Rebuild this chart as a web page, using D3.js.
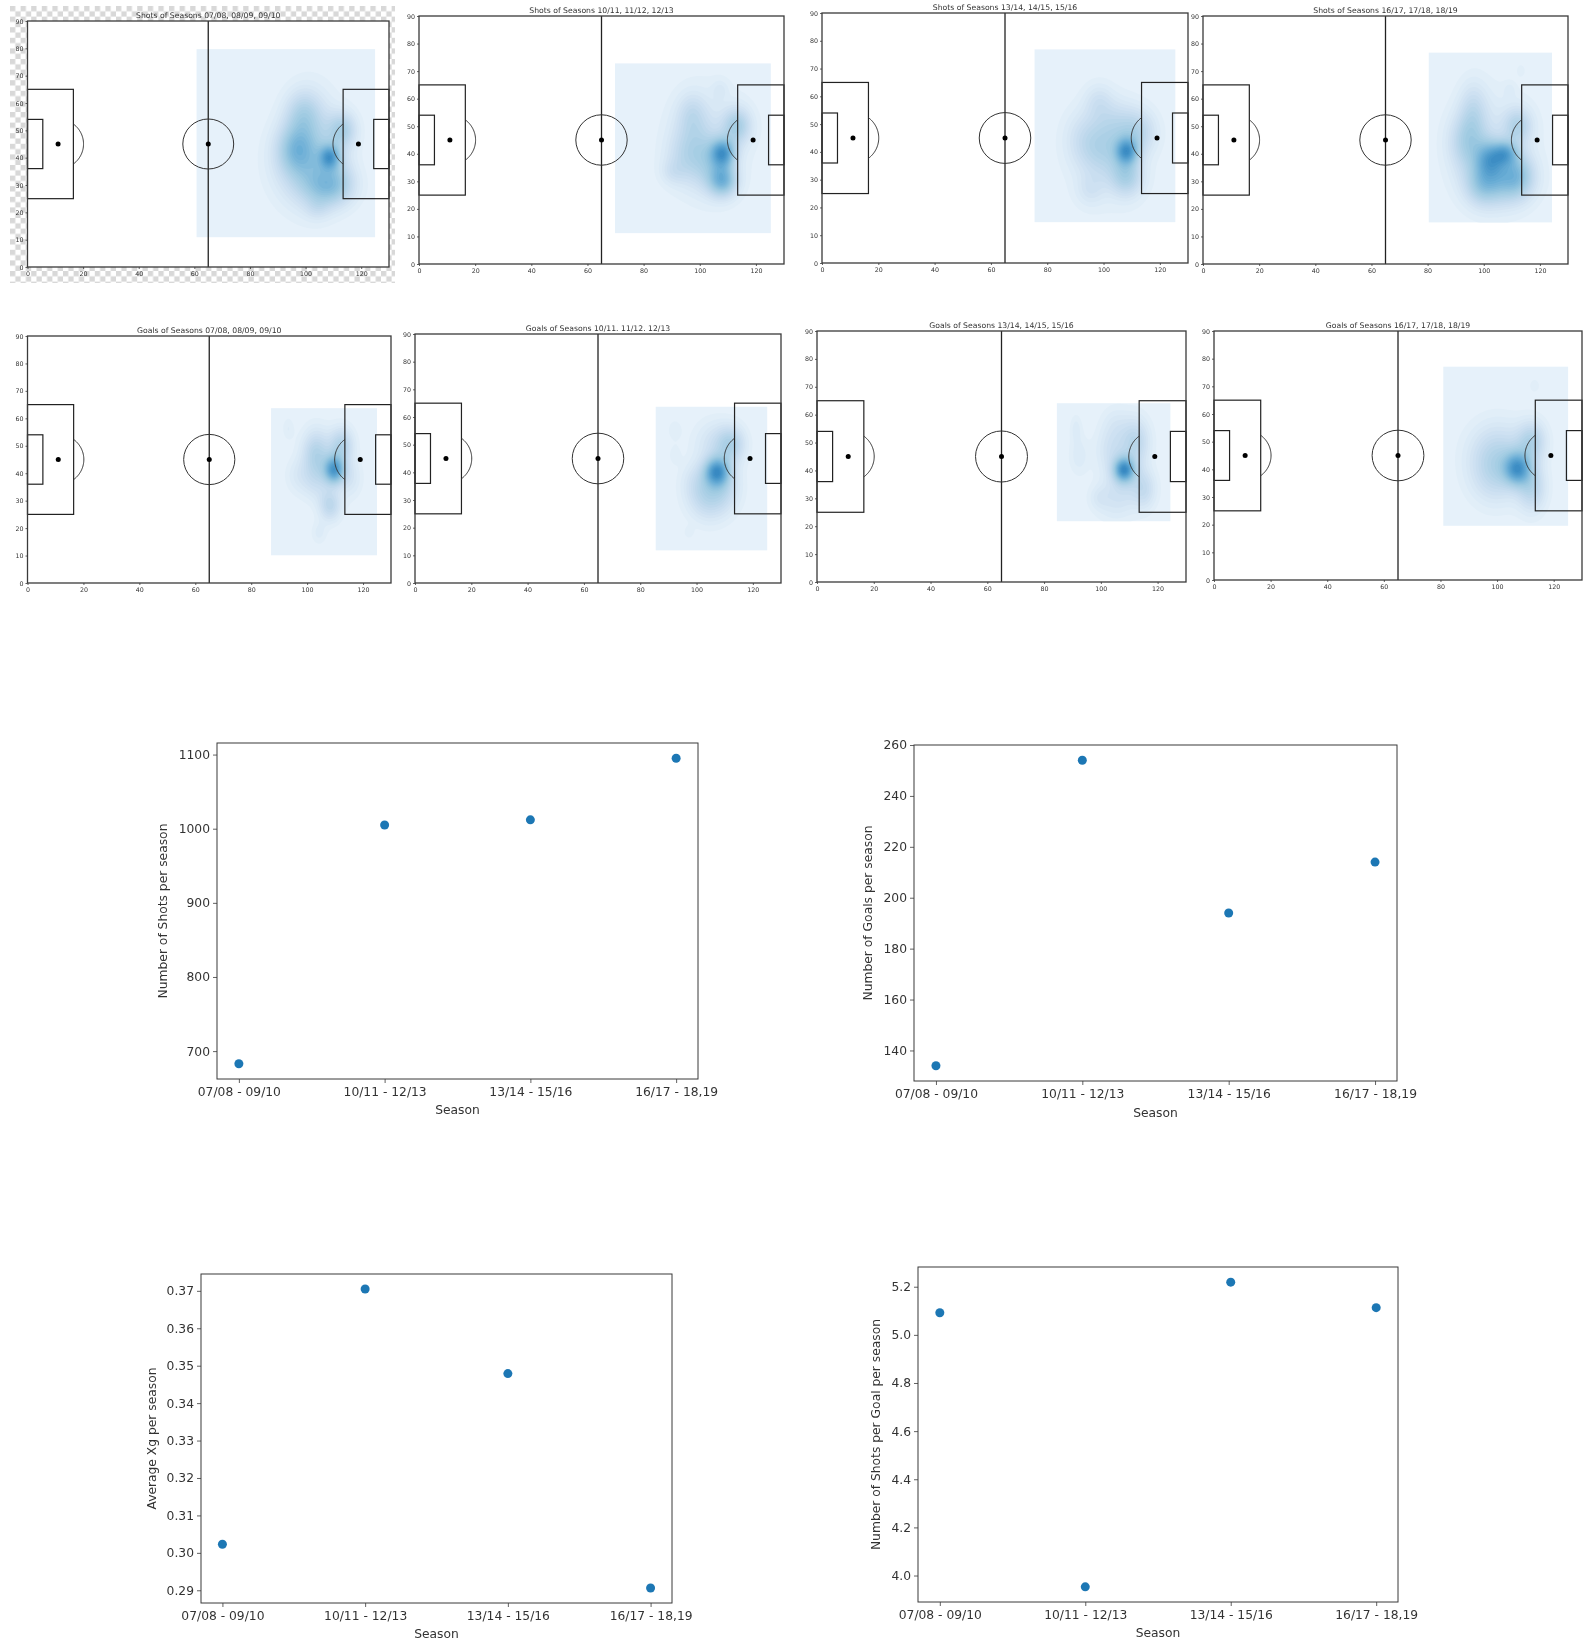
<!DOCTYPE html>
<html>
<head>
<meta charset="utf-8">
<script src="https://cdn.jsdelivr.net/npm/d3@7"></script>
<style>
body { margin: 0; background: #fff; }
text { font-family: "DejaVu Sans", sans-serif; }
</style>
</head>
<body>
<svg id="drawing_region" width="1585" height="1642"></svg>
<script>
// heat panels
const heatTitles = [
    "Shots of Seasons 07/08, 08/09, 09/10", "Shots of Seasons 10/11, 11/12, 12/13",
    "Shots of Seasons 13/14, 14/15, 15/16", "Shots of Seasons 16/17, 17/18, 18/19",
    "Goals of Seasons 07/08, 08/09, 09/10", "Goals of Seasons 10/11. 11/12. 12/13",
    "Goals of Seasons 13/14, 14/15, 15/16", "Goals of Seasons 16/17, 17/18, 18/19"
];
// pale kde box: x0, x1, y0, y1 in pitch units
const heatExtents = [
    [60.8, 125, 10.9, 79.7], [69.8, 125.3, 11.2, 72.8],
    [75.5, 125.5, 14.7, 76.9], [80.4, 124.3, 15.1, 76.7],
    [87.1, 125, 10.1, 63.7], [85.5, 125.1, 11.8, 63.7],
    [84.5, 124.5, 21.8, 64.1], [81, 125.1, 19.6, 77.1]
];
// density hot spots: x, y, spread x, spread y, strength
const heatSpots = [
    [[108.5,40,2.5,3,.5],[96,43,4.5,6,.28],[100,38,8,10,.28],[99,56,4.5,6,.24],[108,29,6,5,.34],[113,50,3.5,4.5,.3],[103,45,7,14,.12],[112,33,4,6,.1],[104,21,3,3,.08]],
    [[108,40,3,3.5,.6],[108,30,3.5,4,.48],[97,45,5,8,.16],[93,37,4.5,6,.1],[113,50,3.5,4.5,.32],[90,33,3,3,.08],[107,63,2,2.5,.07],[97,55,3.5,5,.12],[103,36,5,7,.2],[103,45,10,14,.1]],
    [[108,40,2.7,3.2,.55],[108,31,4,5,.3],[100,40,6,7,.2],[93,45,5,7,.12],[98,58,3.5,4.5,.12],[95,26,3.5,4,.1],[112,47,4.5,5.5,.24],[104,50,5,6,.14],[101,38,10,14,.07]],
    [[102,38,3.5,4.5,.42],[107.5,40,3,3,.4],[94,44,4.5,7,.28],[96,56,3.5,7,.17],[105,30,7,6,.36],[112,32,4,5.5,.28],[99,28,4,5,.18],[112,50,3.5,4.5,.26],[103,42,10,14,.12],[109,63,1.5,2,.05],[113,70,1,1.5,.05]],
    [[109.5,41,2.5,3.5,.68],[103,47,3.5,6,.3],[112,50,3,4.5,.3],[108,28,2.8,4,.25],[103,37,4,5,.14],[96,39,3,4.5,.07],[104,18,2,3,.07],[93,56,1.5,3,.06],[115,38,3,5,.12]],
    [[107,40,3,3.5,.65],[104,31,5,6,.26],[112,50,3.5,4.5,.28],[106,50,5,6,.14],[92,55,2,3,.05],[92,46,1.5,2.5,.05],[97,18,1.2,1.5,.05],[100,37,4,5,.1],[110,35,4,6,.16]],
    [[108,40,2.5,3,.7],[104,47,4,6,.16],[115,33,3,5,.18],[105,28,5,5,.1],[92,45,2.5,5,.08],[91,55,1.5,3.5,.07],[99,30,2.5,3,.07],[112,50,3.5,6,.26],[105,57,3.5,4.5,.07],[108,35,5,5,.12]],
    [[107,40,3.2,4,.6],[100,45,7,8,.26],[112,50,3.5,5,.28],[112,33,3.5,6,.26],[99,36,6,7,.14],[113,70,1.5,2,.05]]
];

// pitch layout in pitch units
const pitchBoxes = [[0, 25, 16.5, 65], [0, 36, 5.5, 54], [113.5, 25, 130, 65], [124.5, 36, 130, 54]];
const pitchSpots = [[11, 45], [65, 45], [119, 45]];
const pitchArcs = [[11, 45, -53, 53], [119, 45, 127, 233]];
const pitchXTicks = [0, 20, 40, 60, 80, 100, 120];
const pitchYTicks = [0, 10, 20, 30, 40, 50, 60, 70, 80, 90];

// scatter panels
const seasons = ["07/08 - 09/10", "10/11 - 12/13", "13/14 - 15/16", "16/17 - 18,19"];
const shotsPerSeason = [683, 1005, 1012, 1095];
const goalsPerSeason = [134, 254, 194, 214];
const xgPerSeason = [0.3023, 0.3705, 0.3479, 0.2906];
const shotsPerGoal = [5.092, 3.953, 5.219, 5.113];
const shotsTicks = [700, 800, 900, 1000, 1100];
const goalsTicks = [140, 160, 180, 200, 220, 240, 260];
const xgTicks = [0.29, 0.30, 0.31, 0.32, 0.33, 0.34, 0.35, 0.36, 0.37];
const shotsPerGoalTicks = [4.0, 4.2, 4.4, 4.6, 4.8, 5.0, 5.2];

// panel boxes on the page: left, right, top, bottom
const heatBoxes = [
    [27.5, 389, 21, 267], [419, 784, 16, 264], [822, 1188, 13, 263], [1203, 1568, 16, 264],
    [27.5, 391, 336, 583], [415, 781, 334, 583], [817, 1186, 331, 582], [1214, 1582, 331, 580]
];
const scatterConfigs = [
    { box: [217, 698, 743, 1079], values: shotsPerSeason, ticks: shotsTicks, domain: [662.4, 1115.6], fmt: "d", label: "Number of Shots per season", labelX: 167, seasonY: 1114 },
    { box: [914, 1397, 745, 1081], values: goalsPerSeason, ticks: goalsTicks, domain: [128, 260], fmt: "d", label: "Number of Goals per season", labelX: 872, seasonY: 1117 },
    { box: [201, 672, 1274, 1603], values: xgPerSeason, ticks: xgTicks, domain: [0.2866, 0.3745], fmt: ".2f", label: "Average Xg per season", labelX: 156, seasonY: 1638 },
    { box: [918, 1398, 1267, 1602], values: shotsPerGoal, ticks: shotsPerGoalTicks, domain: [3.89, 5.282], fmt: ".1f", label: "Number of Shots per Goal per season", labelX: 880, seasonY: 1637 }
];

const svg = d3.select("#drawing_region");
const ink = "#3a3a3a";
const blues = d3.scaleLinear()
    .domain([0, 0.2, 0.4, 0.6, 0.8, 1])
    .range(["#e6f1fa", "#c6dcef", "#9ecae1", "#6baed6", "#3f8fc5", "#1c6fb4"])
    .clamp(true);

const defs = svg.append("defs");
defs.append("filter").attr("id", "soft")
    .attr("x", "-5%").attr("y", "-5%").attr("width", "110%").attr("height", "110%")
    .append("feGaussianBlur").attr("stdDeviation", 0.55);

const cell = 5.3;
const checker = defs.append("pattern").attr("id", "checker")
    .attr("width", cell * 2).attr("height", cell * 2)
    .attr("patternUnits", "userSpaceOnUse")
    .attr("x", 10).attr("y", 6);
checker.append("rect").attr("width", cell * 2).attr("height", cell * 2).attr("fill", "#fff");
checker.append("rect").attr("width", cell).attr("height", cell).attr("fill", "#d8d8d8");
checker.append("rect").attr("x", cell).attr("y", cell).attr("width", cell).attr("height", cell).attr("fill", "#d8d8d8");

const page = svg.append("g").attr("filter", "url(#soft)");

// the first panel sits on a transparency grid
page.append("rect")
    .attr("x", 10).attr("y", 6).attr("width", 385).attr("height", 277)
    .attr("fill", "url(#checker)");

function styleAxis(g, size) {
    g.select(".domain").remove();
    g.selectAll("line").attr("stroke", ink).attr("stroke-width", 0.8);
    g.selectAll("text").attr("fill", "#333").style("font-size", size + "px").style("font-family", '"DejaVu Sans", sans-serif');
}

function drawHeat(index) {
    const [left, right, top, bottom] = heatBoxes[index];
    const [ex0, ex1, ey0, ey1] = heatExtents[index];
    const spots = heatSpots[index];
    const x = d3.scaleLinear().domain([0, 130]).range([left, right]);
    const y = d3.scaleLinear().domain([0, 90]).range([bottom, top]);
    const g = page.append("g");

    g.append("rect")
        .attr("x", left).attr("y", top)
        .attr("width", right - left).attr("height", bottom - top)
        .attr("fill", "#fff");

    // kde shading: sum the hot spots on a half unit grid and contour it
    const res = 2, gridW = 130 * res + 1, gridH = 90 * res + 1;
    const grid = new Float64Array(gridW * gridH);
    for (let j = 0; j < gridH; j++) {
        for (let i = 0; i < gridW; i++) {
            let v = 0;
            spots.forEach(([cx, cy, sx, sy, w]) => {
                const dx = (i / res - cx) / sx, dy = (j / res - cy) / sy;
                v += w * Math.exp(-0.5 * (dx * dx + dy * dy));
            });
            grid[j * gridW + i] = v;
        }
    }
    const contours = d3.contours().size([gridW, gridH]).thresholds(d3.range(0.03, 1.02, 0.03));
    const path = d3.geoPath(d3.geoTransform({
        point(px, py) { this.stream.point(x(px / res), y(py / res)); }
    }));

    g.append("rect")
        .attr("x", x(ex0)).attr("y", y(ey1))
        .attr("width", x(ex1) - x(ex0)).attr("height", y(ey0) - y(ey1))
        .attr("fill", blues(0));

    const clipId = "heat-clip-" + index;
    defs.append("clipPath").attr("id", clipId).append("rect")
        .attr("x", x(ex0)).attr("y", y(ey1))
        .attr("width", x(ex1) - x(ex0)).attr("height", y(ey0) - y(ey1));

    g.append("g").attr("clip-path", `url(#${clipId})`)
        .selectAll("path")
        .data(contours(grid))
        .join("path")
        .attr("d", path)
        .attr("fill", d => blues(d.value));

    // pitch markings
    g.selectAll(".box").data(pitchBoxes).join("rect")
        .attr("class", "box")
        .attr("x", d => x(d[0])).attr("y", d => y(d[3]))
        .attr("width", d => x(d[2]) - x(d[0])).attr("height", d => y(d[1]) - y(d[3]))
        .attr("fill", "none").attr("stroke", "#222").attr("stroke-width", 1.2);

    g.append("line")
        .attr("x1", x(65)).attr("x2", x(65)).attr("y1", y(0)).attr("y2", y(90))
        .attr("stroke", "#222").attr("stroke-width", 1.3);

    g.append("ellipse")
        .attr("cx", x(65)).attr("cy", y(45))
        .attr("rx", x(9.15) - x(0)).attr("ry", y(0) - y(9.15))
        .attr("fill", "none").attr("stroke", "#333").attr("stroke-width", 1);

    const arc = d3.line().x(d => x(d[0])).y(d => y(d[1]));
    g.selectAll(".d-arc").data(pitchArcs).join("path")
        .attr("class", "d-arc")
        .attr("d", ([cx, cy, a0, a1]) => arc(d3.range(a0, a1 + 1, 2).map(a => [
            cx + 9.15 * Math.cos(a * Math.PI / 180),
            cy + 9.15 * Math.sin(a * Math.PI / 180)
        ])))
        .attr("fill", "none").attr("stroke", "#333").attr("stroke-width", 1);

    g.selectAll(".spot").data(pitchSpots).join("circle")
        .attr("class", "spot")
        .attr("cx", d => x(d[0])).attr("cy", d => y(d[1])).attr("r", 2.5)
        .attr("fill", "#000");

    g.append("rect")
        .attr("x", left).attr("y", top)
        .attr("width", right - left).attr("height", bottom - top)
        .attr("fill", "none").attr("stroke", ink).attr("stroke-width", 1.3);

    g.append("g").attr("transform", `translate(0,${bottom})`)
        .call(d3.axisBottom(x).tickValues(pitchXTicks).tickSize(2).tickPadding(3))
        .call(a => styleAxis(a, 6.3));
    g.append("g").attr("transform", `translate(${left},0)`)
        .call(d3.axisLeft(y).tickValues(pitchYTicks).tickSize(2).tickPadding(2))
        .call(a => styleAxis(a, 6.3));

    g.append("text")
        .attr("x", (left + right) / 2).attr("y", top - 3)
        .attr("text-anchor", "middle")
        .attr("fill", "#333")
        .style("font-size", "7.7px")
        .text(heatTitles[index]);
}

function drawScatter(cfg) {
    const [left, right, top, bottom] = cfg.box;
    const x = d3.scalePoint().domain(seasons).range([left, right]).padding(0.15);
    const y = d3.scaleLinear().domain(cfg.domain).range([bottom, top]);
    const g = page.append("g");

    g.append("rect")
        .attr("x", left).attr("y", top)
        .attr("width", right - left).attr("height", bottom - top)
        .attr("fill", "#fff").attr("stroke", ink).attr("stroke-width", 1);

    g.append("g").attr("transform", `translate(0,${bottom})`)
        .call(d3.axisBottom(x).tickSize(4).tickPadding(4))
        .call(a => styleAxis(a, 12.3));
    g.append("g").attr("transform", `translate(${left},0)`)
        .call(d3.axisLeft(y).tickValues(cfg.ticks).tickFormat(d3.format(cfg.fmt)).tickSize(4).tickPadding(3))
        .call(a => styleAxis(a, 12.3));

    g.selectAll(".dot").data(cfg.values).join("circle")
        .attr("class", "dot")
        .attr("cx", (d, i) => x(seasons[i])).attr("cy", d => y(d)).attr("r", 4.5)
        .attr("fill", "#1f77b4");

    g.append("text")
        .attr("x", (left + right) / 2).attr("y", cfg.seasonY)
        .attr("text-anchor", "middle").attr("fill", "#333")
        .style("font-size", "12.3px")
        .text("Season");

    g.append("text")
        .attr("transform", `translate(${cfg.labelX},${(top + bottom) / 2}) rotate(-90)`)
        .attr("text-anchor", "middle").attr("fill", "#333")
        .style("font-size", "12.3px")
        .text(cfg.label);
}

heatTitles.forEach((t, i) => drawHeat(i));
scatterConfigs.forEach(drawScatter);
</script>
</body>
</html>
